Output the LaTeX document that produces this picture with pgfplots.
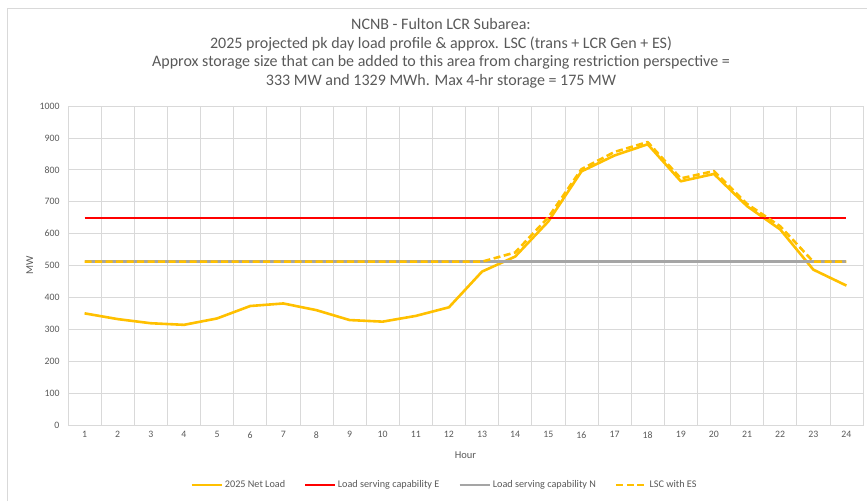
\documentclass[border=0pt]{standalone}
\usepackage{fontspec}
\setmainfont{Carlito}
\usepackage{pgfplots}
\usepackage{pgfplotstable}
\pgfplotsset{compat=1.18}
\definecolor{txt}{HTML}{595959}
\definecolor{gridc}{HTML}{D9D9D9}
\definecolor{netload}{HTML}{FFC000}
\definecolor{lscE}{HTML}{FF0000}
\definecolor{lscN}{HTML}{A5A5A5}
\pgfplotstableread{
hour net E N lsc
1 350 650 512 512
2 332 650 512 512
3 319 650 512 512
4 314 650 512 512
5 334 650 512 512
6 373 650 512 512
7 381 650 512 512
8 360 650 512 512
9 329 650 512 512
10 324 650 512 512
11 342 650 512 512
12 369 650 512 512
13 481 650 512 512
14 528 650 512 541
15 638 650 512 651
16 795 650 512 802
17 845 650 512 856
18 880 650 512 887
19 764 650 512 773
20 787 650 512 796
21 686 650 512 693
22 613 650 512 623
23 487 650 512 512
24 437 650 512 512
}\datatable
\begin{document}
\begin{tikzpicture}
\path[use as bounding box] (0pt,0pt) rectangle (867pt,501pt);
\draw[gridc, line width=0.75pt] (7pt,0pt) -- (7pt,493pt) -- (867pt,493pt);
\begin{scope}[txt, font=\fontsize{16}{19}\selectfont]
\node[anchor=base] at (441pt,471pt) {NCNB - Fulton LCR Subarea:};
\node[anchor=base] at (441pt,452.5pt) {2025 projected pk day load profile \& approx. LSC (trans + LCR Gen + ES)};
\node[anchor=base] at (441pt,434pt) {Approx storage size that can be added to this area from charging restriction perspective =};
\node[anchor=base] at (441pt,415pt) {333 MW and 1329 MWh. Max 4-hr storage = 175 MW};
\end{scope}
\begin{axis}[at={(68pt,76pt)}, anchor=south west, width=795pt, height=319pt, scale only axis,
  xmin=0.5, xmax=24.5, ymin=0, ymax=1000,
  xtick={1,...,24}, ytick={0,100,...,1000},
  minor xtick={0.5,1.5,...,24.5}, xminorgrids=true, ymajorgrids=true, xmajorgrids=false,
  grid style={gridc, line width=0.75pt}, minor grid style={gridc, line width=0.75pt},
  axis line style={gridc, line width=0.75pt},
  major tick length=0pt, minor tick length=0pt,
  tick label style={txt, font=\fontsize{9.8}{11}\selectfont},
  xticklabel style={yshift=-3pt},
  yticklabel style={xshift=-5pt},
  /pgf/number format/assume math mode=true,
  /pgf/number format/1000 sep={},
  xlabel={Hour}, ylabel={MW},
  label style={txt, font=\fontsize{10.5}{12}\selectfont},
  xlabel style={at={(axis description cs:0.5,-0.094)}, anchor=center},
  ylabel style={at={(axis description cs:-0.048,0.5)}, anchor=center},
  legend style={at={(axis description cs:0.4735,-0.188)}, anchor=center, draw=none,
    font=\fontsize{10.2}{12}\selectfont, text=txt, legend columns=4,
    /tikz/every odd column/.append style={column sep=0pt},
    /tikz/every even column/.append style={column sep=17pt}},
  legend image code/.code={\draw[#1] (0pt,0pt) -- (30pt,0pt);},
  clip=false]
\addplot[netload, line width=2.6pt, line join=round] table[x=hour, y=net] {\datatable};
\addlegendentry{2025 Net Load}
\addplot[lscE, line width=1.8pt] table[x=hour, y=E] {\datatable};
\addlegendentry{Load serving capability E}
\addplot[lscN, line width=2.6pt] table[x=hour, y=N] {\datatable};
\addlegendentry{Load serving capability N}
\addplot[netload, line width=2.6pt, dash pattern=on 7pt off 3.5pt, line join=round] table[x=hour, y=lsc] {\datatable};
\addlegendentry{LSC with ES}
\end{axis}
\end{tikzpicture}
\end{document}
